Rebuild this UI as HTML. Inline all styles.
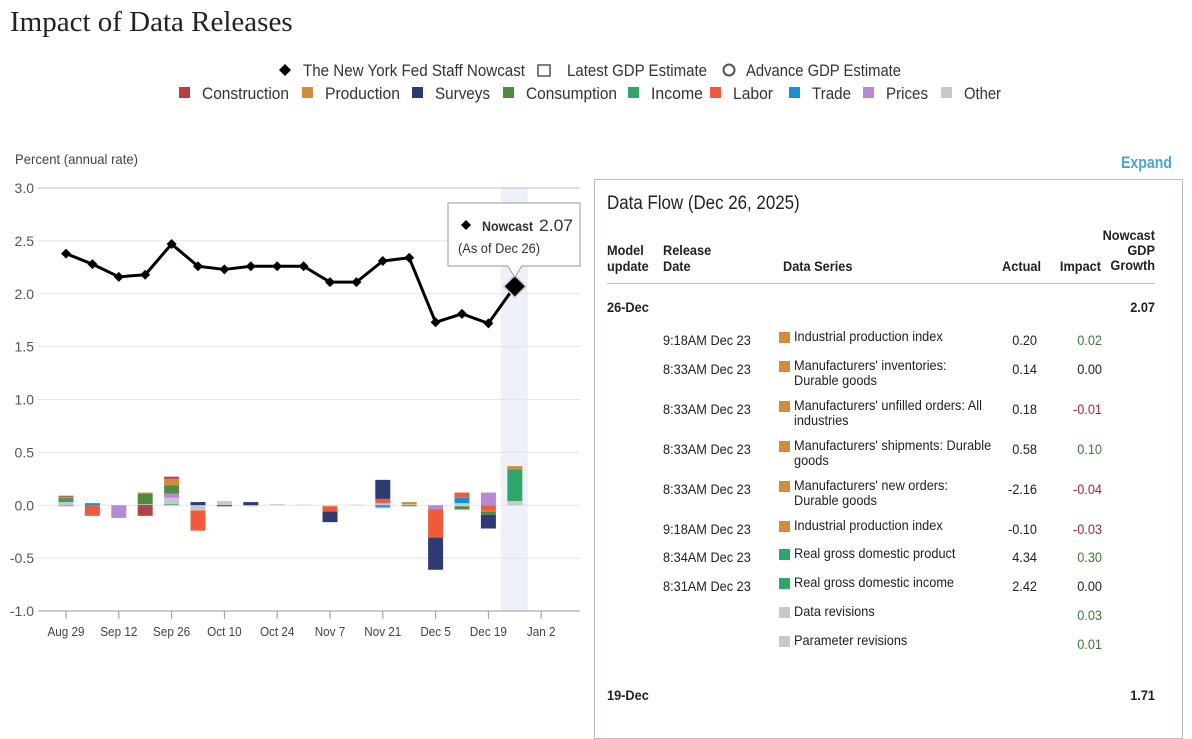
<!DOCTYPE html>
<html><head><meta charset="utf-8">
<style>
body{margin:0;width:1192px;height:716px;background:#fff;overflow:hidden;position:relative;font-family:"Liberation Sans",sans-serif;color:#222}
.a{position:absolute;white-space:nowrap}
.b{font-weight:bold}
.t{font-size:14px;transform:scaleX(0.91);transform-origin:left top}
.r{text-align:right;transform-origin:right top}
.sq{position:absolute;width:11px;height:11px}
</style></head><body>
<div class="a" style="left:10px;top:6px;font-family:'Liberation Serif',serif;font-size:29px;color:#222">Impact of Data Releases</div>

<svg id="chart" width="1192" height="716" style="position:absolute;left:0;top:0"></svg>

<div class="a" style="left:1121px;top:153px;font-size:17px;font-weight:bold;color:#4aa3dc;transform:scaleX(0.83);transform-origin:left top">Expand</div>

<div class="a" style="left:594px;top:179px;width:589px;height:560px;border:1px solid #b8bec6;box-sizing:border-box"></div>
<div class="a" style="left:607px;top:193px;font-size:19px;transform:scaleX(0.89);transform-origin:left top">Data Flow (Dec 26, 2025)</div>
<div class="a b t" style="left:607px;top:242px;line-height:16px">Model<br>update</div>
<div class="a b t" style="left:663px;top:242px;line-height:16px">Release<br>Date</div>
<div class="a b t" style="left:783px;top:258px;line-height:16px">Data Series</div>
<div class="a b t r" style="left:981px;width:60px;top:258px;line-height:16px">Actual</div>
<div class="a b t r" style="left:1041px;width:60px;top:258px;line-height:16px">Impact</div>
<div class="a b t r" style="left:1085px;width:70px;top:228px;line-height:15px">Nowcast<br>GDP<br>Growth</div>
<div class="a" style="left:607px;top:283px;width:548px;height:1px;background:#b8bec6"></div>
<div class="a b t" style="left:607px;top:299px">26-Dec</div>
<div class="a b t r" style="left:1085px;width:70px;top:299px">2.07</div>
<div class="a b t" style="left:607px;top:687px">19-Dec</div>
<div class="a b t r" style="left:1085px;width:70px;top:687px">1.71</div>
<div id="rows"></div>

<script>
// ---- chart data ----
const dates = ["Aug 29","Sep 5","Sep 12","Sep 19","Sep 26","Oct 3","Oct 10","Oct 17","Oct 24","Oct 31","Nov 7","Nov 14","Nov 21","Nov 28","Dec 5","Dec 12","Dec 19","Dec 26"];
const nowcast = [2.38,2.28,2.16,2.18,2.47,2.26,2.23,2.26,2.26,2.26,2.11,2.11,2.31,2.34,1.73,1.81,1.72,2.07];
const tickLabels = ["Aug 29","Sep 12","Sep 26","Oct 10","Oct 24","Nov 7","Nov 21","Dec 5","Dec 19","Jan 2"];
const yTicks = [3.0,2.5,2.0,1.5,1.0,0.5,0.0,-0.5,-1.0];
const categories = ["Construction","Production","Surveys","Consumption","Income","Labor","Trade","Prices","Other"];
const catColors = ["#b5403f","#d48a3b","#2e3b73","#4e8b3f","#2ea66b","#f05a3a","#1a8fd1","#b48ad6","#c8c8cc"];
// stacked segments per week: [category index, value]
const impacts = [
 [[8,0.03],[4,0.03],[3,0.01],[1,0.01],[0,0.01],[7,-0.01]],
 [[6,0.02],[5,-0.10]],
 [[7,-0.12]],
 [[8,0.01],[3,0.10],[1,0.01],[2,-0.01],[0,-0.09]],
 [[4,0.01],[8,0.06],[7,0.04],[3,0.08],[1,0.06],[0,0.02]],
 [[2,0.03],[8,-0.05],[5,-0.19]],
 [[8,0.04],[2,-0.01]],
 [[2,0.03],[8,-0.01]],
 [[8,0.01]],
 [[8,0.005]],
 [[8,-0.01],[5,-0.05],[2,-0.10]],
 [[8,0.005]],
 [[8,0.02],[5,0.04],[2,0.18],[6,-0.02],[8,-0.01]],
 [[8,0.01],[1,0.02],[3,-0.01]],
 [[7,-0.04],[5,-0.26],[3,-0.01],[2,-0.30]],
 [[8,0.02],[6,0.05],[5,0.05],[8,-0.01],[3,-0.03]],
 [[7,0.12],[5,-0.05],[1,-0.01],[3,-0.03],[2,-0.13]],
 [[8,0.04],[4,0.30],[1,0.03]]
];
// ---- axes ----
const X0=66, WEEK=26.4, YTOP=188, PXU=105.75, YMAX=3.0;
const xS = i => X0 + i*WEEK;
const yS = v => YTOP + (YMAX - v)*PXU;
const NS="http://www.w3.org/2000/svg";
const svg=document.getElementById('chart');
function mk(tag,attrs,parent){const e=document.createElementNS(NS,tag);for(const k in attrs)e.setAttribute(k,attrs[k]);(parent||svg).appendChild(e);return e;}

const lbl=mk('text',{x:15,y:164,'font-size':14,fill:'#444',textLength:123,lengthAdjust:'spacingAndGlyphs'});
lbl.textContent="Percent (annual rate)";



const band=mk('rect',{x:xS(17)-14,y:yS(3.0),width:27,height:yS(-1)-yS(3),fill:'#eef1f8'});



yTicks.forEach(v=>{
  const g=mk('line',{x1:38,x2:580,y1:yS(v),y2:yS(v),stroke:v===3?'#b8c0c8':(v===-1?'#999':'#e4e4e4'),'stroke-width':1});
  
  
  const t=mk('text',{x:34,y:yS(v)+5,'text-anchor':'end','font-size':14,fill:'#555'});
  t.textContent=v.toFixed(1);
  
  
});
tickLabels.forEach((s,k)=>{
  const x=xS(k*2);
  const tk=mk('line',{x1:x,x2:x,y1:yS(-1),y2:yS(-1)+8,stroke:'#999'});
  
  
  const t=mk('text',{x:x,y:636,'text-anchor':'middle','font-size':13,fill:'#444',transform:`translate(${x},0) scale(0.9,1) translate(${-x},0)`});
  t.textContent=s;
  
  
});
// bars
impacts.forEach((segs,i)=>{
  let pos=0,neg=0;
  segs.forEach(([c,v])=>{
    let y0,y1;
    if(v>=0){y0=pos;pos+=v;y1=pos;}else{y0=neg;neg+=v;y1=neg;}
    const r=mk('rect',{x:xS(i)-7.5,y:yS(Math.max(y0,y1)),width:15,height:Math.abs(yS(y0)-yS(y1)),fill:catColors[c]});
    
    
  });
});
// line
const pts=nowcast.map((v,i)=>xS(i)+','+yS(v)).join(' ');
const pl=mk('polyline',{points:pts,fill:'none',stroke:'#000','stroke-width':3,'stroke-linejoin':'round'});


nowcast.forEach((v,i)=>{
  const s=i===nowcast.length-1?11:5;
  const d=mk('path',{d:`M${xS(i)},${yS(v)-s}L${xS(i)+s},${yS(v)}L${xS(i)},${yS(v)+s}L${xS(i)-s},${yS(v)}Z`,fill:'#000',stroke:i===nowcast.length-1?'#ccc':'none','stroke-width':1.5});
  
  
});
// tooltip
const tx=xS(17), ty=yS(nowcast[17]);
const tip=mk('path',{d:`M448,203H580V266H${tx+7}L${tx},${ty-9}L${tx-7},266H448Z`,fill:'#fff',stroke:'#999','stroke-width':1});


mk('path',{d:'M466,220L471,225L466,230L461,225Z',fill:'#000'});
const tt=mk('text',{x:482,y:231,'font-size':14,fill:'#333'});
tt.innerHTML='<tspan font-weight="bold" textLength="51" lengthAdjust="spacingAndGlyphs">Nowcast</tspan><tspan font-size="17" dx="6" textLength="34" lengthAdjust="spacingAndGlyphs">'+nowcast[17].toFixed(2)+'</tspan>';


const t2=mk('text',{x:458,y:253,'font-size':14,fill:'#333',textLength:82,lengthAdjust:'spacingAndGlyphs'});
t2.textContent='(As of Dec 26)';



// legends
const leg1=[["diamond","The New York Fed Staff Nowcast",285,303,222],["square","Latest GDP Estimate",538,567,140],["circle","Advance GDP Estimate",723,746,155]];
leg1.forEach(([k,s,x,tx2,w])=>{
  if(k==="diamond")mk('path',{d:`M${x},64L${x+6},70L${x},76L${x-6},70Z`,fill:'#000'});
  if(k==="square")mk('rect',{x:x,y:65,width:12,height:11,fill:'#fff',stroke:'#555','stroke-width':1.5});
  if(k==="circle")mk('circle',{cx:x+6,cy:70,r:5.5,fill:'#fff',stroke:'#555','stroke-width':2});
  const t=mk('text',{x:tx2,y:76,'font-size':17,fill:'#333',textLength:w,lengthAdjust:'spacingAndGlyphs'});
  t.textContent=s;
  
  
});
const legX=[179,302,412,503,628,710,789,863,941];
const legW=[87,75,55,91,52,40,39,42,37];
categories.forEach((c,i)=>{
  mk('rect',{x:legX[i],y:87,width:11,height:11,fill:catColors[i]});
  const t=mk('text',{x:legX[i]+23,y:99,'font-size':17,fill:'#333',textLength:legW[i],lengthAdjust:'spacingAndGlyphs'});
  t.textContent=c;
  
  
});

// table rows
const rows=[
 ["9:18AM Dec 23","Industrial production index","0.20","0.02",1,330,341],
 ["8:33AM Dec 23","Manufacturers' inventories:<br>Durable goods","0.14","0.00",1,359,370],
 ["8:33AM Dec 23","Manufacturers' unfilled orders: All<br>industries","0.18","-0.01",1,399,410],
 ["8:33AM Dec 23","Manufacturers' shipments: Durable<br>goods","0.58","0.10",1,439,450],
 ["8:33AM Dec 23","Manufacturers' new orders:<br>Durable goods","-2.16","-0.04",1,479,490],
 ["9:18AM Dec 23","Industrial production index","-0.10","-0.03",1,519,530],
 ["8:34AM Dec 23","Real gross domestic product","4.34","0.30",4,547,558],
 ["8:31AM Dec 23","Real gross domestic income","2.42","0.00",4,576,587],
 ["","Data revisions","","0.03",8,605,616],
 ["","Parameter revisions","","0.01",8,634,645]
];
let h='';
rows.forEach(r=>{
  const v=parseFloat(r[3]);
  const col=v>0?'#3b7a3b':(v<0?'#a0283c':'#222');
  h+=`<div class="a t" style="left:663px;top:${r[6]-9}px">${r[0]}</div>`;
  h+=`<div class="sq" style="left:779px;top:${r[5]+2}px;background:${catColors[r[4]]}"></div>`;
  h+=`<div class="a t" style="left:794px;top:${r[5]-1}px;line-height:15px">${r[1]}</div>`;
  h+=`<div class="a t r" style="left:987px;width:50px;top:${r[6]-9}px">${r[2]}</div>`;
  h+=`<div class="a t r" style="left:1052px;width:50px;top:${r[6]-9}px;color:${col}">${r[3]}</div>`;
});
document.getElementById('rows').innerHTML=h;
</script>
</body></html>
